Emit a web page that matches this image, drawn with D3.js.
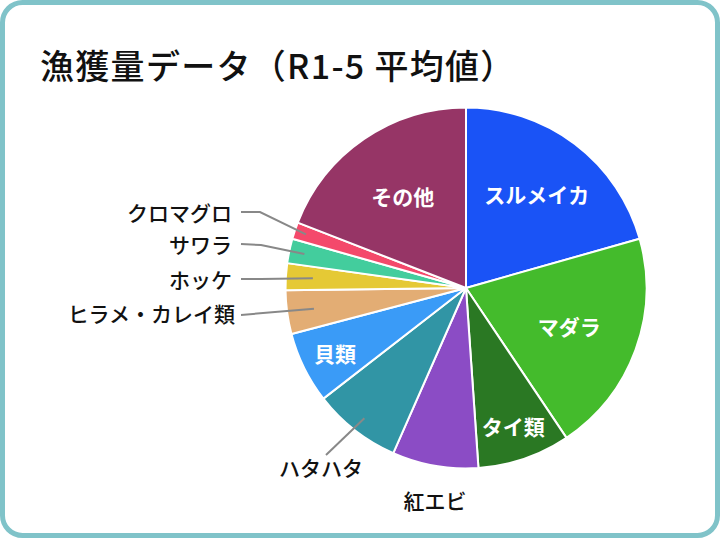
<!DOCTYPE html>
<html>
<head>
<meta charset="utf-8">
<script src="https://cdn.jsdelivr.net/npm/d3@7/dist/d3.min.js"></script>
<style>
  html, body { margin: 0; padding: 0; background: #ffffff; }
  svg { display: block; }
</style>
</head>
<body>
<svg id="chart" width="720" height="538"></svg>
<script>
// ---- data ----
const title = "漁獲量データ（R1-5 平均値）";
const categories = ["スルメイカ", "マダラ", "タイ類", "紅エビ", "ハタハタ", "貝類", "ヒラメ・カレイ類", "ホッケ", "サワラ", "クロマグロ", "その他"];
const values = [20.6, 20.0, 8.3, 7.7, 7.9, 6.4, 3.9, 2.4, 2.2, 1.5, 19.1];
const colors = ["#1a53f6", "#44bb2c", "#2a7823", "#8b4cc5", "#3195a5", "#3a9bf7", "#e3ad74", "#e5c935", "#43cd9d", "#f4496b", "#963566"];

// ---- label layout (not data) ----
const labelLayout = {
  "スルメイカ": { mode: "in", r: 0.65 },
  "マダラ": { mode: "in", r: 0.61 },
  "タイ類": { mode: "in", r: 0.81 },
  "貝類": { mode: "in", r: 0.81 },
  "その他": { mode: "in", r: 0.62 },
  "紅エビ": { mode: "out", tx: 435, ty: 500, anchor: "middle" },
  "ハタハタ": { mode: "out", tx: 321, ty: 467, anchor: "middle", line: [[326, 455]], lr: 0.915 },
  "ヒラメ・カレイ類": { mode: "out", tx: 235, ty: 313, anchor: "end", line: [[241, 315]], lr: 0.85 },
  "ホッケ": { mode: "out", tx: 232, ty: 279, anchor: "end", line: [[241, 279], [261, 279]], lr: 0.85 },
  "サワラ": { mode: "out", tx: 232, ty: 244, anchor: "end", line: [[241, 244], [261, 245]], lr: 0.915 },
  "クロマグロ": { mode: "out", tx: 232, ty: 212, anchor: "end", line: [[241, 212], [260, 212]], lr: 0.935 }
};

const W = 720, H = 538;
const cx = 466, cy = 288, R = 180.5;
const svg = d3.select("#chart");

// frame
svg.append("rect")
  .attr("x", 2.5).attr("y", 2.5)
  .attr("width", W - 5).attr("height", H - 5)
  .attr("rx", 20).attr("ry", 20)
  .attr("fill", "#ffffff")
  .attr("stroke", "#80c3c9")
  .attr("stroke-width", 5);

// title
svg.append("text")
  .attr("x", 40).attr("y", 64)
  .attr("dominant-baseline", "central")
  .attr("font-family", "'Noto Sans CJK JP', sans-serif")
  .attr("font-weight", 500)
  .attr("font-size", 34)
  .attr("letter-spacing", 1.3)
  .attr("fill", "#111")
  .text(title);

const data = categories.map((c, i) => ({ name: c, value: values[i], color: colors[i] }));
const pie = d3.pie().value(d => d.value).sort(null).startAngle(0).endAngle(2 * Math.PI);
const arcs = pie(data);
const arc = d3.arc().innerRadius(0).outerRadius(R);

const g = svg.append("g").attr("transform", `translate(${cx},${cy})`);

g.selectAll("path.slice")
  .data(arcs)
  .enter().append("path")
  .attr("class", "slice")
  .attr("d", arc)
  .attr("fill", d => d.data.color)
  .attr("stroke", "#ffffff")
  .attr("stroke-width", 2)
  .attr("stroke-linejoin", "round");

// inside labels
arcs.forEach(d => {
  const L = labelLayout[d.data.name];
  if (!L || L.mode !== "in") return;
  const a = (d.startAngle + d.endAngle) / 2;
  const x = Math.sin(a) * R * L.r, y = -Math.cos(a) * R * L.r;
  g.append("text")
    .attr("x", x).attr("y", y)
    .attr("text-anchor", "middle")
    .attr("dominant-baseline", "central")
    .attr("font-family", "'Noto Sans CJK JP', sans-serif")
    .attr("font-weight", 700)
    .attr("font-size", 21)
    .attr("fill", "#ffffff")
    .text(d.data.name);
});

// outside labels + leader lines
arcs.forEach(d => {
  const L = labelLayout[d.data.name];
  if (!L || L.mode !== "out") return;
  if (L.line) {
    const a = (d.startAngle + d.endAngle) / 2;
    const ex = cx + Math.sin(a) * R * L.lr, ey = cy - Math.cos(a) * R * L.lr;
    const pts = L.line.concat([[ex, ey]]);
    svg.append("path")
      .attr("d", d3.line()(pts))
      .attr("fill", "none")
      .attr("stroke", "#888888")
      .attr("stroke-width", 2);
  }
  svg.append("text")
    .attr("x", L.tx).attr("y", L.ty)
    .attr("text-anchor", L.anchor)
    .attr("dominant-baseline", "central")
    .attr("font-family", "'Noto Sans CJK JP', sans-serif")
    .attr("font-weight", 500)
    .attr("font-size", 21)
    .attr("fill", "#111")
    .text(d.data.name);
});
</script>
</body>
</html>
